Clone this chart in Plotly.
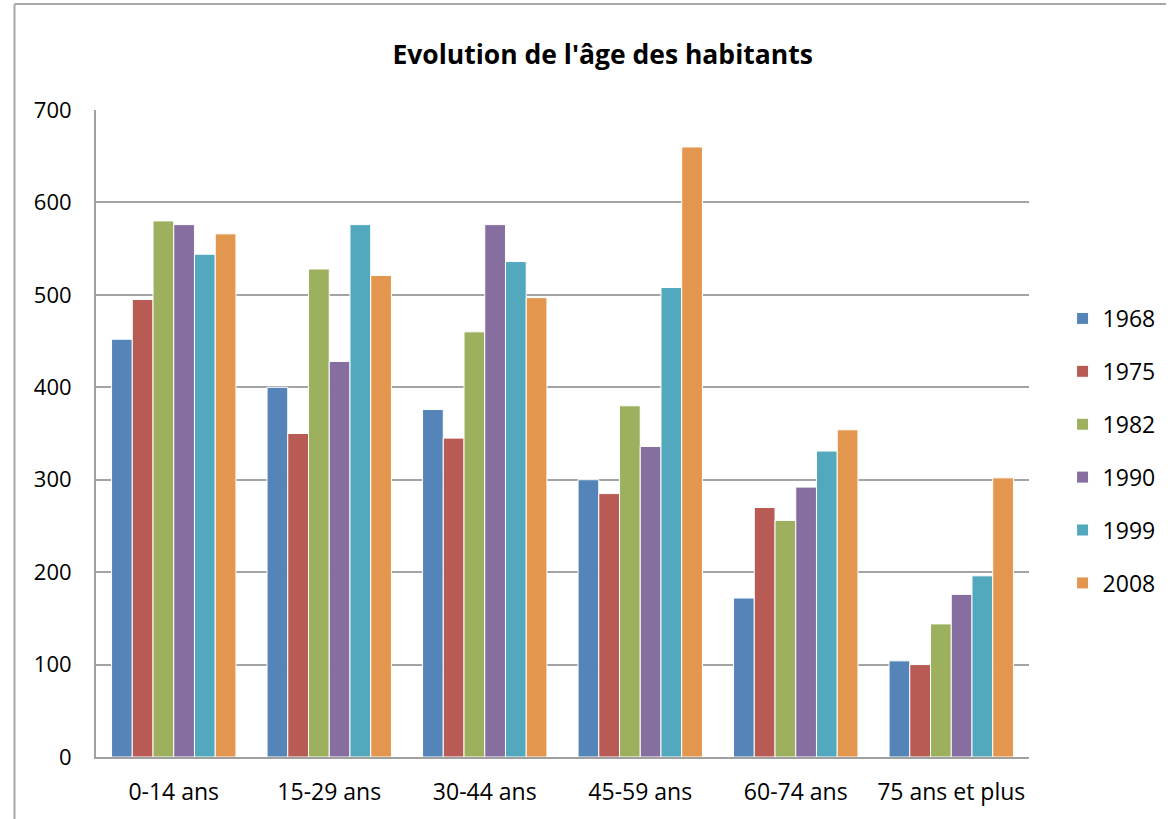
import plotly.graph_objects as go

categories = ["0-14 ans", "15-29 ans", "30-44 ans", "45-59 ans", "60-74 ans", "75 ans et plus"]
years = ["1968", "1975", "1982", "1990", "1999", "2008"]
v1968 = [452, 400, 376, 300, 172, 104]
v1975 = [495, 350, 345, 285, 270, 100]
v1982 = [580, 528, 460, 380, 256, 144]
v1990 = [576, 428, 576, 336, 292, 176]
v1999 = [544, 576, 536, 508, 331, 196]
v2008 = [566, 521, 497, 660, 354, 302]
series = [v1968, v1975, v1982, v1990, v1999, v2008]
colors = ["#5585b8", "#b95b55", "#9db05e", "#866ea0", "#52a8bd", "#e3964e"]
yticks = [0, 100, 200, 300, 400, 500, 600, 700]

FONT = "'Open Sans', Lato, sans-serif"

fig = go.Figure()
for name, vals, col in zip(years, series, colors):
    fig.add_trace(go.Bar(
        name=name, x=categories, y=vals, legendgroup=name,
        marker=dict(color=col, line=dict(color="white", width=1)),
    ))

fig.update_layout(
    width=1173, height=819,
    paper_bgcolor="white", plot_bgcolor="white",
    barmode="group", bargap=0.2, bargroupgap=0,
    margin=dict(l=96, r=138, t=110, b=62),
    title=dict(text="<b>Evolution de l'âge des habitants</b>", x=0.543, xanchor="center",
               xref="paper", y=1 - 55/819, yanchor="middle",
               font=dict(family=FONT, size=26.5, color="black")),
    font=dict(family=FONT, size=22, color="black"),
    legend=dict(x=1.036, xanchor="left", y=0.473, yanchor="middle",
                font=dict(family=FONT, size=23, color="black"),
                itemwidth=30, tracegroupgap=20, traceorder="grouped",
                bgcolor="rgba(0,0,0,0)"),
    xaxis=dict(showline=True, linecolor="#a0a0a0", linewidth=2, ticks="",
               tickfont=dict(family=FONT, size=23, color="black"), ticklabelstandoff=13),
    yaxis=dict(range=[0, 700], tickvals=yticks, showgrid=True, gridcolor="#a4a4a4", gridwidth=2,
               showline=True, linecolor="#a0a0a0", linewidth=2, ticks="",
               zeroline=False,
               tickfont=dict(family=FONT, size=22, color="black"), ticklabelstandoff=18),
)

# chart frame (left and top border of cropped chart area)
fig.add_shape(type="line", xref="paper", yref="paper",
              x0=(14-96)/939, x1=(14-96)/939, y0=(757-4)/647, y1=-(819-757)/647,
              line=dict(color="#a8a8a8", width=2))
fig.add_shape(type="line", xref="paper", yref="paper",
              x0=(14-96)/939, x1=(1173-96)/939, y0=(757-4)/647, y1=(757-4)/647,
              line=dict(color="#a8a8a8", width=2))

fig.write_html("out.html", config={"displayModeBar": False},
               post_script="document.body.style.margin='0';document.body.style.padding='0';")
